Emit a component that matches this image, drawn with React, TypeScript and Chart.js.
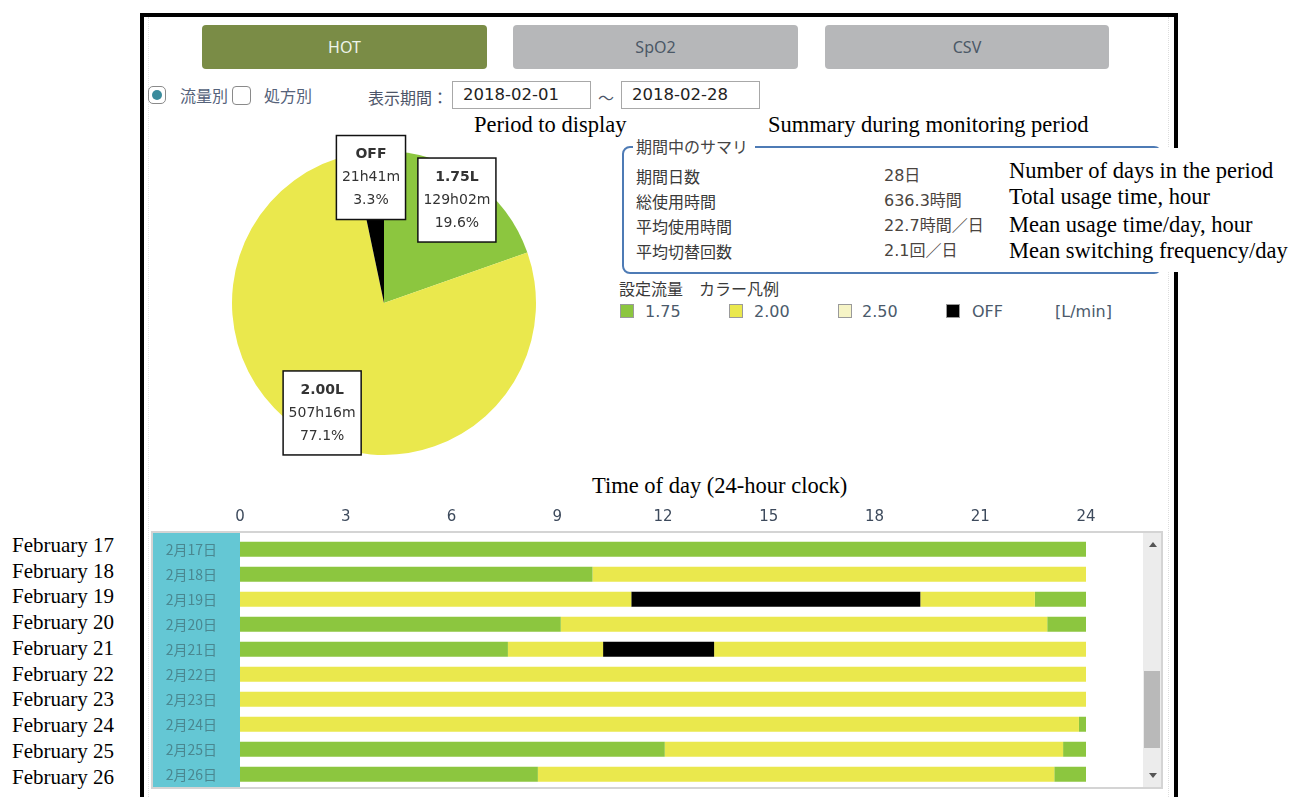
import React, { useEffect, useRef } from 'react';
import { Chart, registerables } from 'chart.js';

Chart.register(...registerables);

// ---------- data ----------
const flowLevels = ['1.75', '2.00', '2.50', 'OFF'];
const pieLabels = ['1.75L', '2.00L', 'OFF'];
const pieFlows = ['1.75', '2.00', 'OFF'];
const pieMinutes = [129 * 60 + 2, 507 * 60 + 16, 21 * 60 + 41];

const days = ['2月17日', '2月18日', '2月19日', '2月20日', '2月21日', '2月22日', '2月23日', '2月24日', '2月25日', '2月26日'];
const dayNotes = ['February 17', 'February 18', 'February 19', 'February 20', 'February 21', 'February 22', 'February 23', 'February 24', 'February 25', 'February 26'];
// hours at which the set flow switched during each day
const switchHours = [
  [],
  [10.0],
  [11.1, 19.3, 22.55],
  [9.1, 22.9],
  [7.6, 10.3, 13.45],
  [],
  [],
  [23.8],
  [12.05, 23.35],
  [8.45, 23.1],
];
// flow of each segment between switches
const segmentFlows = [
  ['1.75'],
  ['1.75', '2.00'],
  ['2.00', 'OFF', '2.00', '1.75'],
  ['1.75', '2.00', '1.75'],
  ['1.75', '2.00', 'OFF', '2.00'],
  ['2.00'],
  ['2.00'],
  ['2.00', '1.75'],
  ['1.75', '2.00', '1.75'],
  ['1.75', '2.00', '1.75'],
];
const hourRange = [0, 24];
const hourStep = 3;

const summaryTitle = '期間中のサマリ';
const summaryLabels = ['期間日数', '総使用時間', '平均使用時間', '平均切替回数'];
const summaryValues = ['28日', '636.3時間', '22.7時間／日', '2.1回／日'];
const summaryNotes = ['Number of days in the period', 'Total usage time, hour', 'Mean usage time/day, hour', 'Mean switching frequency/day'];

// ---------- styles ----------
const flowColor: Record<string, string> = {
  '1.75': '#8cc63f',
  '2.00': '#eae84d',
  '2.50': '#f6f4c6',
  OFF: '#000000',
};
const TEAL = '#64c7d4';
const CJK = "'Noto Sans CJK JP', sans-serif";
const NUM = "'DejaVu Sans', 'Noto Sans CJK JP', sans-serif";
const SERIF = "'Liberation Serif', 'DejaVu Serif', serif";

function T(props: { x: number; y: number; size: number; color?: string; family?: string; weight?: string | number; children: React.ReactNode }) {
  const { x, y, size, color = '#333', family = CJK, weight = 'normal', children } = props;
  return (
    <div
      style={{
        position: 'absolute',
        left: x,
        top: y - size * 0.7,
        lineHeight: `${size * 1.4}px`,
        fontSize: size,
        fontFamily: family,
        fontWeight: weight as any,
        color,
        whiteSpace: 'nowrap',
      }}
    >
      {children}
    </div>
  );
}

function fmtDur(m: number) {
  return `${Math.floor(m / 60)}h${String(m % 60).padStart(2, '0')}m`;
}

function PieChart() {
  const ref = useRef<HTMLCanvasElement>(null);
  useEffect(() => {
    const total = pieMinutes.reduce((a, b) => a + b, 0);
    const labelPlugin = {
      id: 'sliceBoxes',
      afterDatasetsDraw(chart: any) {
        const ctx = chart.ctx;
        const meta = chart.getDatasetMeta(0);
        meta.data.forEach((arc: any, i: number) => {
          const p = arc.getProps(['x', 'y', 'startAngle', 'endAngle', 'outerRadius'], true);
          const mid = (p.startAngle + p.endAngle) / 2;
          const cx = p.x + Math.cos(mid) * p.outerRadius * 0.83;
          const cy = p.y + Math.sin(mid) * p.outerRadius * 0.83;
          const lines = [pieLabels[i], fmtDur(pieMinutes[i]), ((pieMinutes[i] / total) * 100).toFixed(1) + '%'];
          ctx.save();
          let w = 0;
          lines.forEach((l, j) => {
            ctx.font = `${j === 0 ? 'bold ' : ''}14px ${NUM}`;
            w = Math.max(w, ctx.measureText(l).width);
          });
          const bw = w + 11;
          const bh = 84;
          ctx.fillStyle = '#ffffff';
          ctx.fillRect(cx - bw / 2, cy - bh / 2, bw, bh);
          ctx.strokeStyle = '#111';
          ctx.lineWidth = 1.5;
          ctx.strokeRect(cx - bw / 2, cy - bh / 2, bw, bh);
          ctx.fillStyle = '#333';
          ctx.textAlign = 'center';
          ctx.textBaseline = 'middle';
          lines.forEach((l, j) => {
            ctx.font = `${j === 0 ? 'bold ' : ''}14px ${NUM}`;
            ctx.fillText(l, cx, cy + (j - 1) * 23);
          });
          ctx.restore();
        });
      },
    };
    const chart = new Chart(ref.current!, {
      type: 'pie',
      data: {
        labels: pieLabels,
        datasets: [
          {
            data: pieMinutes,
            backgroundColor: pieFlows.map((f) => flowColor[f]),
            borderWidth: 0,
          },
        ],
      },
      options: {
        responsive: false,
        animation: false,
        layout: { padding: 28 },
        plugins: { legend: { display: false }, tooltip: { enabled: false } },
      },
      plugins: [labelPlugin],
    });
    return () => chart.destroy();
  }, []);
  return <canvas ref={ref} width={360} height={360} style={{ position: 'absolute', left: 204, top: 123 }} />;
}

function BarChart() {
  const ref = useRef<HTMLCanvasElement>(null);
  useEffect(() => {
    const maxSeg = Math.max(...segmentFlows.map((s) => s.length));
    const datasets: any[] = [];
    for (let k = 0; k < maxSeg; k++) {
      datasets.push({
        label: `segment ${k + 1}`,
        data: days.map((_, d) => {
          if (k >= segmentFlows[d].length) return null;
          const b = [hourRange[0], ...switchHours[d], hourRange[1]];
          return [b[k], b[k + 1]];
        }),
        backgroundColor: days.map((_, d) => (segmentFlows[d][k] ? flowColor[segmentFlows[d][k]] : 'transparent')),
        borderWidth: 0,
        grouped: false,
        barPercentage: 0.6,
        categoryPercentage: 1,
      });
    }
    const columnPlugin = {
      id: 'labelColumn',
      beforeDraw(chart: any) {
        const { ctx, chartArea } = chart;
        ctx.save();
        ctx.fillStyle = TEAL;
        ctx.fillRect(0, 26, chartArea.left, 257);
        ctx.restore();
      },
    };
    const chart = new Chart(ref.current!, {
      type: 'bar',
      data: { labels: days, datasets },
      options: {
        indexAxis: 'y',
        responsive: false,
        animation: false,
        layout: { padding: { top: 0, right: 77, bottom: 3.3, left: 0 } },
        plugins: { legend: { display: false }, tooltip: { enabled: false } },
        scales: {
          x: {
            type: 'linear',
            position: 'top',
            min: hourRange[0],
            max: hourRange[1],
            grid: { display: false, drawTicks: false },
            border: { display: false },
            ticks: { stepSize: hourStep, padding: 11, color: '#3d4a5c', font: { family: NUM, size: 15 } },
            afterFit: (s: any) => {
              s.height = 31.7;
              s.paddingLeft = 0;
              s.paddingRight = 0;
            },
          },
          y: {
            type: 'category',
            grid: { display: false, drawTicks: false },
            border: { display: false },
            ticks: { crossAlign: 'near', padding: 23, color: '#4a8790', font: { family: CJK, size: 14 } },
            afterFit: (s: any) => {
              s.width = 89;
              s.paddingTop = 0;
              s.paddingBottom = 0;
            },
          },
        },
      },
      plugins: [columnPlugin],
    });
    return () => chart.destroy();
  }, []);
  return <canvas ref={ref} width={1012} height={285} style={{ position: 'absolute', left: 151, top: 505 }} />;
}

function Button(props: { x: number; w: number; bg: string; color: string; text: string }) {
  return (
    <div
      style={{
        position: 'absolute',
        left: props.x,
        top: 25,
        width: props.w,
        height: 44,
        background: props.bg,
        borderRadius: 4,
        color: props.color,
        fontFamily: "'Noto Sans', sans-serif",
        fontSize: 16,
        lineHeight: '44px',
        textAlign: 'center',
      }}
    >
      {props.text}
    </div>
  );
}

function Input(props: { x: number; text: string }) {
  return (
    <div
      style={{
        position: 'absolute',
        left: props.x,
        top: 81,
        width: 139,
        height: 28,
        boxSizing: 'border-box',
        border: '1px solid #a8a8a8',
        background: '#fff',
        fontFamily: NUM,
        fontSize: 16.5,
        lineHeight: '26px',
        paddingLeft: 10,
        color: '#222',
      }}
    >
      {props.text}
    </div>
  );
}

export default function App() {
  const legendX = [620, 729, 838, 946];
  const legendTextX = [645, 754, 862, 972];
  const dayNoteY = [546, 572, 597, 623, 649, 675, 700, 726, 752, 778];
  return (
    <div style={{ position: 'absolute', left: 0, top: 0, width: 1293, height: 797, overflow: 'hidden', background: '#fff' }}>
      {/* frame */}
      <div style={{ position: 'absolute', left: 140, top: 13, width: 1038, height: 800, boxSizing: 'border-box', border: '4px solid #000', borderBottom: 'none' }} />
      <div style={{ position: 'absolute', left: 148, top: 17, height: 780, borderLeft: '1px dotted #dedede' }} />
      <div style={{ position: 'absolute', left: 1168, top: 17, height: 780, borderLeft: '1px dotted #dedede' }} />

      {/* tab buttons */}
      <Button x={202} w={285} bg="#7a8c46" color="#eef4ea" text="HOT" />
      <Button x={513} w={285} bg="#b6b7b9" color="#4b5866" text="SpO2" />
      <Button x={825} w={284} bg="#b6b7b9" color="#4b5866" text="CSV" />

      {/* radio / checkbox row */}
      <div style={{ position: 'absolute', left: 148, top: 86, width: 18, height: 18, boxSizing: 'border-box', border: '1px solid #8a8a8a', borderRadius: 5, background: '#fff' }}>
        <div style={{ position: 'absolute', left: 3, top: 3, width: 10, height: 10, borderRadius: 5, background: '#3a8b9c' }} />
      </div>
      <T x={180} y={95} size={16} color="#55627a">流量別</T>
      <div style={{ position: 'absolute', left: 232, top: 86, width: 19, height: 19, boxSizing: 'border-box', border: '1px solid #8a8a8a', borderRadius: 4, background: '#fff' }} />
      <T x={264} y={95} size={16} color="#55627a">処方別</T>
      <T x={368} y={97} size={16} color="#4d5568">表示期間：</T>
      <Input x={452} text="2018-02-01" />
      <T x={598} y={97} size={16} color="#4d5568">～</T>
      <Input x={621} text="2018-02-28" />

      <T x={474} y={125} size={22.5} color="#000" family={SERIF}>Period to display</T>
      <T x={768} y={125} size={22.5} color="#000" family={SERIF}>Summary during monitoring period</T>

      {/* pie */}
      <PieChart />

      {/* summary fieldset */}
      <div style={{ position: 'absolute', left: 622, top: 146, width: 540, height: 128, boxSizing: 'border-box', border: '2px solid #4e7bb5', borderRadius: 8 }} />
      <div style={{ position: 'absolute', left: 633, top: 136, height: 20, width: 122, background: '#fff' }} />
      <T x={636} y={146} size={16} color="#444">{summaryTitle}</T>
      {summaryLabels.map((l, i) => (
        <T key={l} x={636} y={176 + i * 25} size={16} color="#3a3a3a">{l}</T>
      ))}
      {summaryValues.map((v, i) => (
        <T key={v} x={884} y={176 + i * 25} size={16} color="#4a4440" family={NUM}>{v}</T>
      ))}

      {/* legend */}
      <T x={619} y={288} size={16} color="#3a3a3a">設定流量　カラー凡例</T>
      {flowLevels.map((f, i) => (
        <React.Fragment key={f}>
          <div style={{ position: 'absolute', left: legendX[i], top: 304, width: 14, height: 14, boxSizing: 'border-box', border: '1px solid #9a9a9a', background: flowColor[f] }} />
          <T x={legendTextX[i]} y={312} size={16} color="#4b5a6b" family={NUM}>{f}</T>
        </React.Fragment>
      ))}
      <T x={1055} y={312} size={16} color="#4b5a6b" family={NUM}>[L/min]</T>

      {/* English annotation box */}
      <div style={{ position: 'absolute', left: 993, top: 148, width: 300, height: 124, background: '#fff' }} />
      {summaryNotes.map((n, i) => (
        <T key={n} x={1009} y={[171, 197, 225, 251][i]} size={22.5} color="#000" family={SERIF}>{n}</T>
      ))}

      <T x={592} y={486} size={22.5} color="#000" family={SERIF}>Time of day (24-hour clock)</T>

      {/* bar chart panel */}
      <BarChart />
      <div style={{ position: 'absolute', left: 151, top: 531, width: 1012, height: 258, boxSizing: 'border-box', border: '2px solid #d4d4d4', pointerEvents: 'none' }} />
      <div style={{ position: 'absolute', left: 1143, top: 533, width: 18, height: 254, background: '#ececec' }} />
      <div style={{ position: 'absolute', left: 1144, top: 671, width: 16, height: 77, background: '#b9b9b9' }} />
      <div style={{ position: 'absolute', left: 1149, top: 542, width: 0, height: 0, borderLeft: '4px solid transparent', borderRight: '4px solid transparent', borderBottom: '5px solid #555' }} />
      <div style={{ position: 'absolute', left: 1149, top: 773, width: 0, height: 0, borderLeft: '4px solid transparent', borderRight: '4px solid transparent', borderTop: '5px solid #555' }} />

      {dayNotes.map((n, i) => (
        <T key={n} x={12} y={dayNoteY[i]} size={21} color="#000" family={SERIF}>{n}</T>
      ))}
    </div>
  );
}
